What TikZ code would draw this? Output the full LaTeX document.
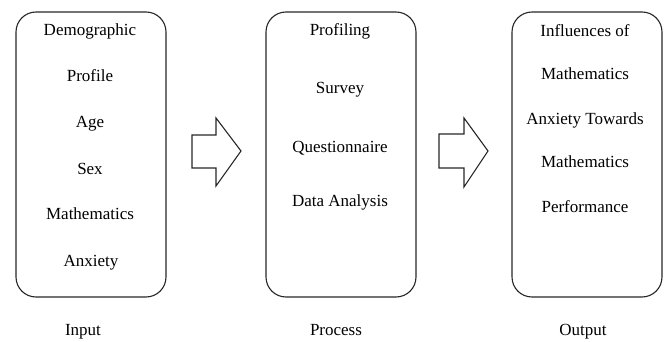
\documentclass[tikz,border=0pt]{standalone}
\usepackage{fontspec}
\setmainfont{Liberation Serif}
\begin{document}
\begin{tikzpicture}[x=1pt,y=-1pt,
  box/.style={draw=black!85, line width=1.1pt, rounded corners=20pt},
  blockarrow/.style={draw=black!85, line width=1.1pt, line join=miter},
  txt/.style={font=\fontsize{17}{19}\selectfont, inner sep=0pt, anchor=base},
  lbl/.style={font=\fontsize{17}{19}\selectfont, inner sep=0pt, anchor=base}]
\useasboundingbox (0,0) rectangle (665,342);
% boxes
\draw[box] (16,12) rectangle (166,297);
\draw[box] (266,12) rectangle (416,297);
\draw[box] (512,12) rectangle (662,297);
% block arrows
\draw[blockarrow] (192,135) -- (216,135) -- (216,118) -- (241,151) -- (216,186) -- (216,168) -- (192,168) -- cycle;
\draw[blockarrow] (439,134) -- (464,134) -- (464,118) -- (488,151) -- (464,187) -- (464,168) -- (439,168) -- cycle;
% input texts
\node[txt] (i1) at (90,36) {Demographic};
\node[txt] (i2) at (90,82) {Profile};
\node[txt] (i3) at (90,128) {Age};
\node[txt] (i4) at (90,175) {Sex};
\node[txt] (i5) at (90,220) {Mathematics};
\node[txt] (i6) at (91,266) {Anxiety};
% process texts
\node[txt] (p1) at (340,36) {Profiling};
\node[txt] (p2) at (340,94) {Survey};
\node[txt] (p3) at (340,153) {Questionnaire};
\node[txt] (p4) at (340,207) {Data Analysis};
% output texts
\node[txt] (o1) at (585,37) {Influences of};
\node[txt] (o2) at (585,80) {Mathematics};
\node[txt] (o3) at (585,125) {Anxiety Towards};
\node[txt] (o4) at (585,168) {Mathematics};
\node[txt] (o5) at (585,213) {Performance};
% labels
\node[lbl] (li) at (83,335) {Input};
\node[lbl] (lp) at (336,335) {Process};
\node[lbl] (lo) at (583,335) {Output};
\end{tikzpicture}
\end{document}
